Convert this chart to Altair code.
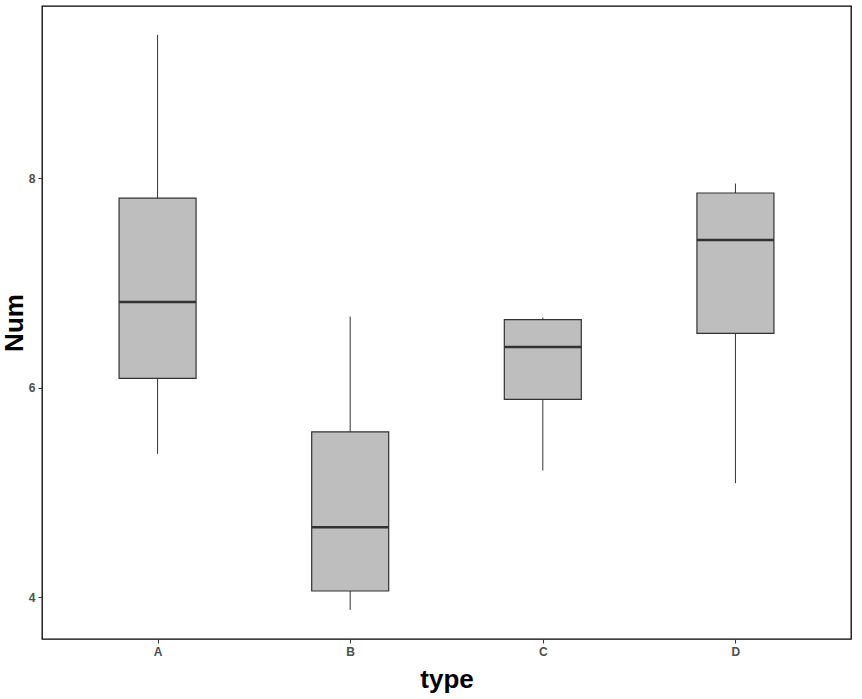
import altair as alt
import pandas as pd

types = ["A", "B", "C", "D"]
lower = [5.37, 3.88, 5.21, 5.09]
q1 = [6.09, 4.06, 5.89, 6.52]
median = [6.82, 4.67, 6.39, 7.41]
q3 = [7.81, 5.58, 6.65, 7.86]
upper = [9.37, 6.68, 6.67, 7.95]

df = pd.DataFrame({"type": types, "lower": lower, "q1": q1,
                   "median": median, "q3": q3, "upper": upper})

W, H = 809, 633
xscale = alt.Scale(type="point", padding=0.6)
yscale = alt.Scale(domain=[3.602, 9.645], nice=False, zero=False)

x_enc = alt.X("type:N", scale=xscale, sort=types,
              axis=alt.Axis(title="type", labelAngle=0, titleY=40, titleBaseline="middle"))
y_axis = alt.Axis(title="Num", values=[4, 6, 8], format="d", titleAngle=270,
                  titleX=-28, titleY=H / 2, titleAlign="center", titleBaseline="middle")

base = alt.Chart(df)

whisk = base.mark_rule(color="#333333", strokeWidth=1).encode(
    x=x_enc,
    y=alt.Y("lower:Q", scale=yscale, axis=y_axis),
    y2="upper:Q",
)
box = base.mark_bar(size=77, fill="#BEBEBE", stroke="#333333", strokeWidth=1.2,
                    opacity=1).encode(
    x=x_enc,
    y=alt.Y("q1:Q", scale=yscale),
    y2="q3:Q",
)
med = base.mark_tick(size=77, thickness=2.5, color="#333333", opacity=1).encode(
    x=x_enc,
    y=alt.Y("median:Q", scale=yscale),
)

chart = alt.layer(whisk, box, med).properties(
    width=W, height=H,
    autosize=alt.AutoSizeParams(type="none"),
    padding={"left": 42, "top": 6, "right": 11, "bottom": 60},
    background="white",
).configure_view(
    stroke="black", strokeWidth=1.3, fill="white"
).configure_axis(
    grid=False, domain=False,
    tickColor="#333333", tickSize=4, tickWidth=1,
    labelColor="#4D4D4D", labelFont="Liberation Sans", labelFontWeight="bold",
    labelFontSize=12, labelPadding=3,
    titleFont="Liberation Sans", titleFontWeight="bold", titleFontSize=26,
    titleColor="black",
)

chart.save("out.html", embed_options={"renderer": "svg", "actions": False})
